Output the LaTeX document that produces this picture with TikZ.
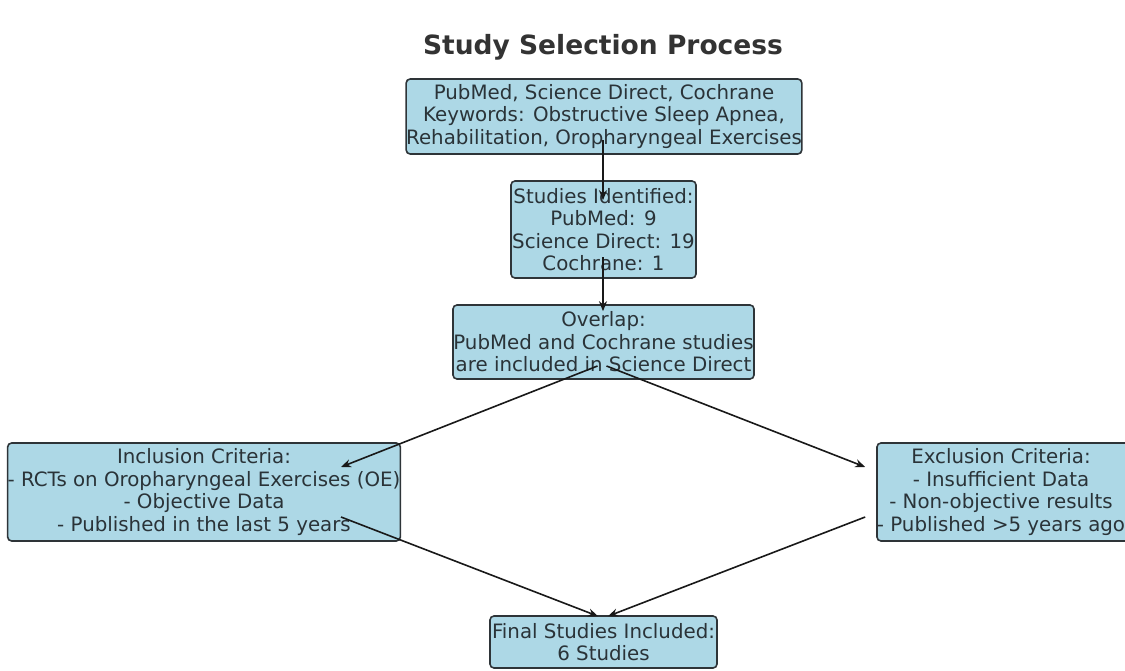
\documentclass[tikz,border=0pt]{standalone}
\usepackage{fontspec}
\setmainfont{DejaVu Sans}
\usetikzlibrary{calc,arrows.meta}
\definecolor{boxfill}{HTML}{ADD8E6}
\definecolor{boxline}{HTML}{2E3438}
\definecolor{txt}{HTML}{2A3338}
\tikzset{
  flowbox/.style={draw=boxline, line width=1.6pt, fill=boxfill, rounded corners=4pt,
    align=center, font=\fontsize{19.8}{22.5}\selectfont, text=txt, inner sep=0pt},
  flowtext/.style={align=center, font=\fontsize{19.8}{22.5}\selectfont, text=txt, inner sep=0pt},
  flowarrow/.style={draw=black!90, line width=1.6pt, -{Stealth[length=10pt,width=8pt]}}
}
\begin{document}
\begin{tikzpicture}[x=1pt,y=-1pt]
\useasboundingbox (0,0) rectangle (1125,671);
\fill[white] (0,0) rectangle (1125,671);
\node[font=\fontsize{26.5}{30}\selectfont\bfseries, text=black!80] (title) at (603,47) {Study Selection Process};

\node[flowbox, minimum width=394pt, minimum height=75pt] (b1) at (604,116.5)
  {PubMed, Science Direct, Cochrane\\Keywords: Obstructive Sleep Apnea,\\Rehabilitation, Oropharyngeal Exercises};
\node[flowbox, minimum width=185pt, minimum height=97pt] (b2) at (603.5,229.5)
  {Studies Identified:\\PubMed: 9\\Science Direct: 19\\Cochrane: 1};
\node[flowbox, minimum width=301pt, minimum height=74pt] (b3) at (603.5,342)
  {Overlap:\\PubMed and Cochrane studies\\are included in Science Direct};
\node[flowbox, minimum width=392pt, minimum height=98pt] (b4) at (204,492)
  {Inclusion Criteria:\\- RCTs on Oropharyngeal Exercises (OE)\\- Objective Data\\- Published in the last 5 years};
\begin{scope}
\clip (0,0) rectangle (1125,671);
\node[flowbox, minimum width=262pt, minimum height=98pt] (b5) at (1008,492) {};
\end{scope}
\node[flowtext] (b5text) at (1001,492)
  {Exclusion Criteria:\\- Insufficient Data\\- Non-objective results\\- Published >5 years ago};
\node[flowbox, minimum width=227pt, minimum height=52pt] (b6) at (603.5,642)
  {Final Studies Included:\\6 Studies};

\draw[flowarrow] ($(b1.center)+(-1,24)$) -- ($(b2.north)+(-0.5,20)$);
\draw[flowarrow] ($(b2.center)+(-0.5,28)$) -- ($(b3.north)+(-0.5,7)$);
\draw[flowarrow] ($(b3.center)+(-6,24)$) -- ($(b4.center)+(137,-25)$);
\draw[flowarrow] ($(b3.center)+(3,24)$) -- ($(b5.west)+(-11,-25)$);
\draw[flowarrow] ($(b4.center)+(137,25)$) -- ($(b6.north)+(-5.5,1)$);
\draw[flowarrow] ($(b5.west)+(-11,25)$) -- ($(b6.north)+(4.5,1)$);
\end{tikzpicture}
\end{document}
